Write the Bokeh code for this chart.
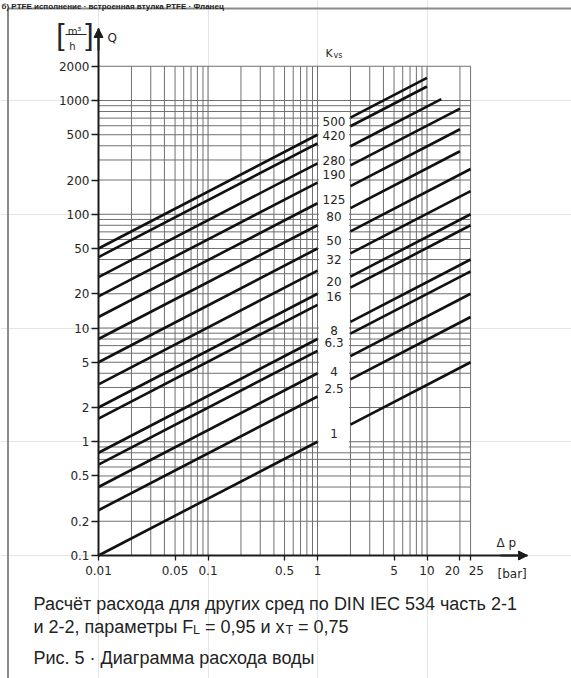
import numpy as np
from bokeh.plotting import figure
from bokeh.models import (Range1d, FixedTicker, CustomJSTickFormatter, Label, Arrow,
                          NormalHead, LogAxis)
from bokeh.core.properties import value
from bokeh.embed import file_html
from bokeh.resources import INLINE

# ---------------- data ----------------
KVS = [500, 420, 280, 190, 125, 80, 50, 32, 20, 16, 8, 6.3, 4, 2.5, 1]
KVS_LABELS = ["500", "420", "280", "190", "125", "80", "50", "32", "20", "16",
              "8", "6.3", "4", "2.5", "1"]
DP_START = 0.01                       # every line starts at 0.01 bar
DP_END = [10, 10, 13.5, 20, 20, 20, 25, 25, 25, 25, 25, 25, 25, 25, 25]
DP_GAP = [1, 2]                       # label column between 1 and 2 bar

X_TICKS = [0.01, 0.05, 0.1, 0.5, 1, 5, 10, 20, 25]
Y_TICKS = [0.1, 0.2, 0.5, 1, 2, 5, 10, 20, 50, 100, 200, 500, 1000, 2000]

X_GRID = [0.01, 0.02, 0.03, 0.04, 0.05, 0.06, 0.07, 0.08, 0.09,
          0.1, 0.2, 0.3, 0.4, 0.5, 0.6, 0.7, 0.8, 0.9,
          1, 2, 3, 4, 5, 6, 7, 8, 9, 10, 20, 25]
Y_GRID = [0.1, 0.2, 0.3, 0.4, 0.5, 0.6, 0.7, 0.8, 0.9,
          1, 2, 3, 4, 5, 6, 7, 8, 9,
          10, 20, 30, 40, 50, 60, 70, 80, 90,
          100, 200, 300, 400, 500, 600, 700, 800, 900,
          1000, 2000]

# ---------------- page geometry helpers ----------------
W, H = 571, 678
PX0, PXD = 98.0, 109.5     # page x of 0.01 bar, pixels per decade
PY0, PYD = 555.0, 113.75   # page y of 0.1 m3/h, pixels per decade


def xd(px):
    return 0.01 * 10 ** ((px - PX0) / PXD)


def yd(py):
    return 0.1 * 10 ** ((PY0 - py) / PYD)


INK = "#1c1c1c"
GRID = "#707070"
TXT = "#262626"

p = figure(x_axis_type="log", y_axis_type="log",
           x_axis_location=None, y_axis_location=None,
           x_range=Range1d(xd(0), xd(W)), y_range=Range1d(yd(H), yd(0)),
           width=W, height=H, min_border=0,
           output_backend="svg", toolbar_location=None)
p.outline_line_color = None
p.background_fill_color = "white"
p.border_fill_color = "white"

# axes at fixed positions (0.01 bar / 0.1 m3/h)
xfmt = CustomJSTickFormatter(code="""
const nb = "\\u00a0";
if (tick == 20) return "20" + nb + nb + nb + nb;
if (tick == 25) return nb + nb + nb + "25";
return tick.toString();
""")
yfmt = CustomJSTickFormatter(code="return tick.toString();")
yax = LogAxis(fixed_location=0.01, bounds=(0.1, yd(28)),
              ticker=FixedTicker(ticks=Y_TICKS, minor_ticks=[]), formatter=yfmt)
xax = LogAxis(fixed_location=0.1, bounds=(0.01, xd(527)),
              ticker=FixedTicker(ticks=X_TICKS, minor_ticks=[]), formatter=xfmt)
for ax in (xax, yax):
    ax.axis_line_width = 2
    ax.axis_line_color = INK
    ax.major_tick_line_color = INK
    ax.major_tick_line_width = 1.3
    ax.major_tick_in = 0
    ax.minor_tick_line_color = None
    ax.major_label_text_font = "DejaVu Sans"
    ax.major_label_text_font_size = "12px"
    ax.major_label_text_color = TXT
yax.major_tick_out = 7
yax.major_label_standoff = 2
xax.major_tick_out = 5
xax.major_label_standoff = 3
p.add_layout(yax, "left")
p.add_layout(xax, "below")

# horizontal grid lines (ending at 25 bar)
p.segment(x0=[X_GRID[0]] * len(Y_GRID), x1=[X_GRID[-1]] * len(Y_GRID),
          y0=Y_GRID, y1=Y_GRID, line_color=GRID, line_width=1)
# white label column
p.quad(left=1.03, right=1.94, bottom=0.86, top=740, fill_color="white",
       line_color=None)
# vertical grid lines (ending at 2000)
p.segment(x0=X_GRID, x1=X_GRID, y0=[Y_GRID[0]] * len(X_GRID),
          y1=[Y_GRID[-1]] * len(X_GRID), line_color=GRID, line_width=1)

# Kvs lines: Q = Kvs * sqrt(dp), broken at the label column
xs, ys = [], []
for k, e in zip(KVS, DP_END):
    xs.append([DP_START, DP_GAP[0]])
    ys.append([k * np.sqrt(DP_START), k * np.sqrt(DP_GAP[0])])
    xs.append([DP_GAP[1], e])
    ys.append([k * np.sqrt(DP_GAP[1]), k * np.sqrt(e)])
p.multi_line(xs, ys, line_color="#111111", line_width=2.6)

# Kvs labels in the column (small pixel nudges to avoid crowding)
NUDGE = {"500": -5, "280": 5, "125": 5, "32": -3, "20": -4, "4": 7}
mid = np.sqrt(DP_GAP[0] * DP_GAP[1])
p.text(x=[mid] * len(KVS), y=[k * np.sqrt(1.4) for k in KVS], text=KVS_LABELS,
       y_offset=[NUDGE.get(t, 0) for t in KVS_LABELS],
       text_align="center", text_baseline="middle",
       text_font=value("DejaVu Sans"), text_font_size=value("12px"),
       text_color=TXT)

# axis arrows
p.add_layout(Arrow(end=NormalHead(size=9, fill_color=INK, line_color=INK),
                   x_start=0.01, y_start=yd(50), x_end=0.01, y_end=yd(28),
                   line_color=INK, line_width=2))
p.add_layout(Arrow(end=NormalHead(size=9, fill_color=INK, line_color=INK),
                   x_start=xd(500), y_start=0.1, x_end=xd(527), y_end=0.1,
                   line_color=INK, line_width=2))

# page frame (grey rule on top and left)
p.segment(x0=[xd(7.5), xd(7.5)], y0=[yd(8), yd(8)], x1=[xd(7.5), xd(W + 5)],
          y1=[yd(H + 5), yd(8)], line_color="#8a8a8a", line_width=2)


def lab(px, py, text, size, font="DejaVu Sans", align="left", color=TXT,
        baseline="alphabetic", style="normal"):
    p.add_layout(Label(x=xd(px), y=yd(py), text=text, text_font=font,
                       text_font_size=size, text_align=align,
                       text_baseline=baseline, text_color=color,
                       text_font_style=style))


CAP = "Liberation Sans"
CAPC = "#222222"
NB = "\u00a0"
# heading of the page above the figure (only a sliver shows in the source)
lab(1, 6, "б) PTFE исполнение · встроенная втулка PTFE · Фланец", "8px",
    font=CAP, style="bold", color=CAPC)

# y-axis title: Q [m3/h]
lab(107, 37, "Q", "12px")
lab(74, 31, "m³", "10px", align="center")
lab(72, 46, "h", "10px", align="center")
p.add_layout(Arrow(end=None, x_start=xd(65), y_start=yd(34), x_end=xd(86),
                   y_end=yd(34), line_color=TXT, line_width=1))
lab(60, 34, "[", "30px", align="center", baseline="middle", font=CAP)
lab(89, 34, "]", "30px", align="center", baseline="middle", font=CAP)

# Kvs title
lab(325, 53, "K", "11px")
lab(333, 55, "vs", "8px")

# x-axis title
lab(496, 542, "Δ p", "12px")
lab(497, 573, "[bar]", "12px")

# caption
lab(33, 603, "Расчёт расхода для других сред по DIN IEC 534 часть 2-1", "18px",
    font=CAP, color=CAPC)
lab(33, 626, "и 2-2, параметры F", "18px", font=CAP, color=CAPC)
lab(192.5, 629.5, "L", "12.5px", font=CAP, color=CAPC)
lab(199.5, 626, NB + "= 0,95 и x", "18px", font=CAP, color=CAPC)
lab(285, 629.5, "T", "12.5px", font=CAP, color=CAPC)
lab(292.5, 626, NB + "= 0,75", "18px", font=CAP, color=CAPC)
lab(33, 657, "Рис. 5 · Диаграмма расхода воды", "18px", font=CAP, color=CAPC)

open("out.html", "w").write(file_html(p, INLINE))
